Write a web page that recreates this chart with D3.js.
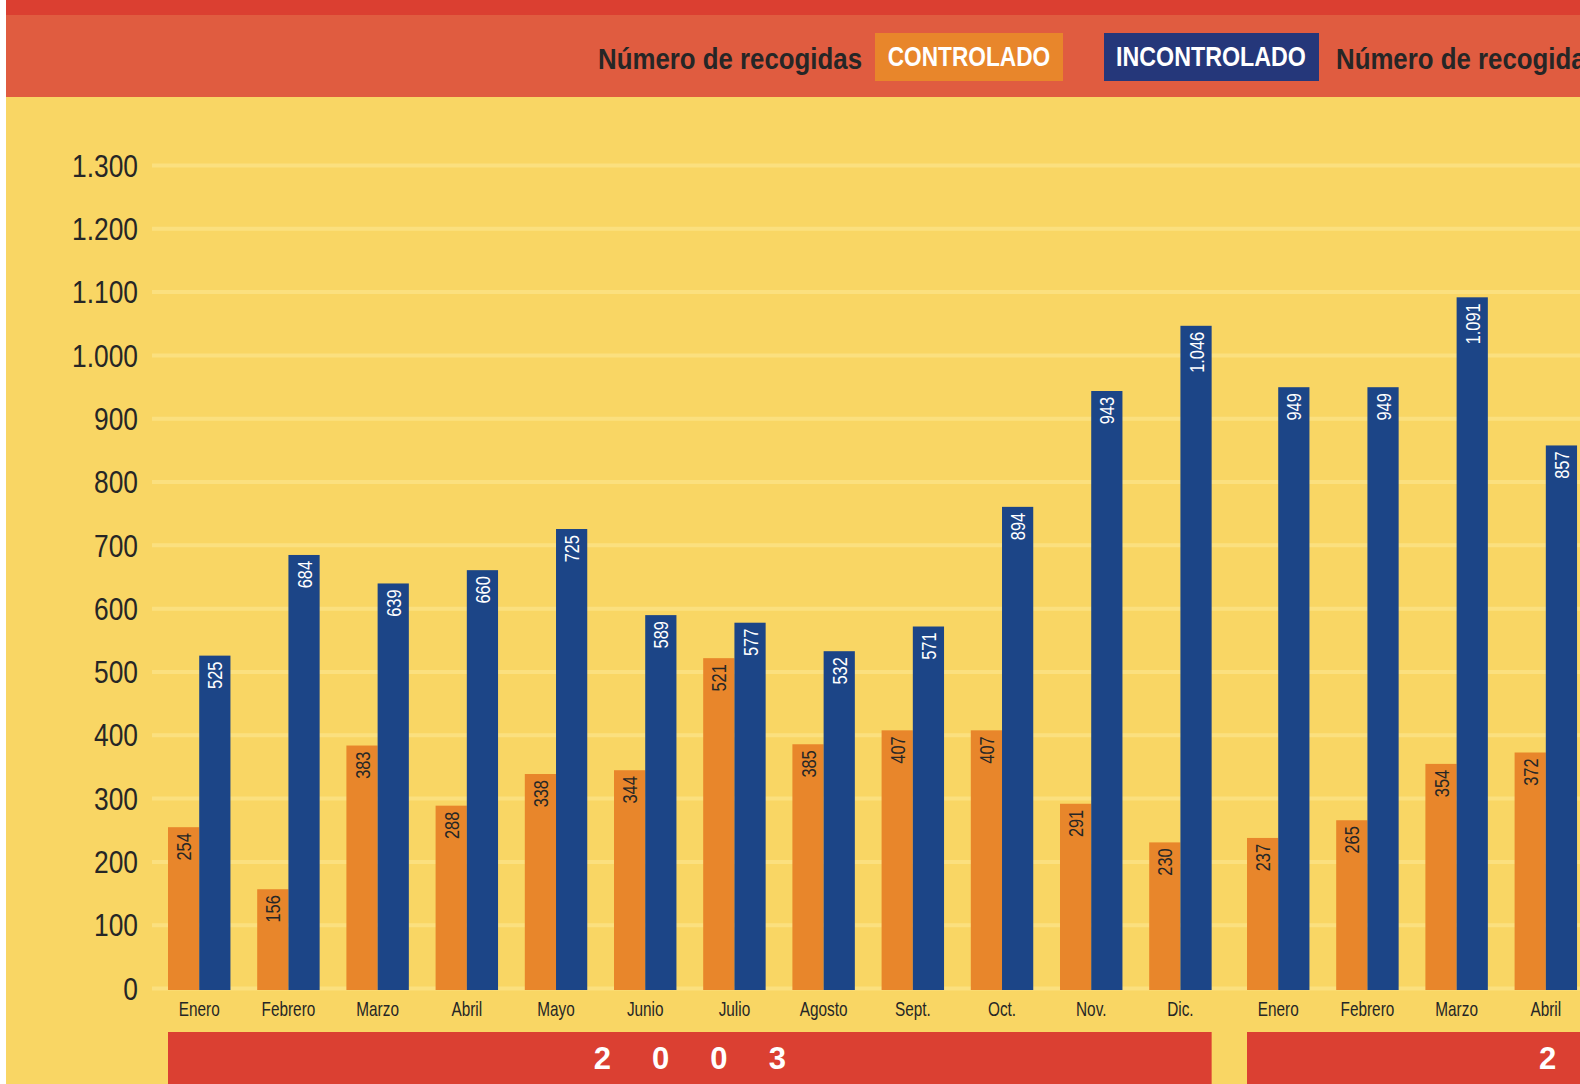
<!DOCTYPE html>
<html>
<head>
<meta charset="utf-8">
<title>Número de recogidas</title>
<script src="https://cdn.jsdelivr.net/npm/d3@7"></script>
<style>
html, body { margin: 0; padding: 0; background: #fff; }
svg { display: block; }
text { font-family: "Liberation Sans", Arial, sans-serif; }
</style>
<script>
// months on the x axis, one list per year
var meses2003 = ["Enero", "Febrero", "Marzo", "Abril", "Mayo", "Junio", "Julio", "Agosto", "Sept.", "Oct.", "Nov.", "Dic."];
var meses2004 = ["Enero", "Febrero", "Marzo", "Abril", "Mayo", "Junio", "Julio", "Agosto", "Sept."];
var anios = ["2003", "2004"];

// controlled pickups (orange)
var controlado2003 = [254, 156, 383, 288, 338, 344, 521, 385, 407, 407, 291, 230];
var controlado2004 = [237, 265, 354, 372];

// uncontrolled pickups (blue), bar heights as drawn
var incontrolado2003 = [525, 684, 639, 660, 725, 589, 577, 532, 571, 760, 943, 1046];
var incontrolado2004 = [949, 949, 1091, 857];
// numbers printed on the blue bars (Oct. is printed 894 on a shorter bar)
var etiquetasIncontrolado2003 = [525, 684, 639, 660, 725, 589, 577, 532, 571, 894, 943, 1046];
var etiquetasIncontrolado2004 = [949, 949, 1091, 857];

var yTicks = [0, 100, 200, 300, 400, 500, 600, 700, 800, 900, 1000, 1100, 1200, 1300];

var W = 1580, H = 1084;
var ORANGE = "#e8862b", BLUE = "#1c4587", YELLOW = "#f9d664", GRID = "#fbe07f";
var INK = "#262626";

var es = d3.formatLocale({decimal: ",", thousands: ".", grouping: [3], currency: ["", " €"]});
var fmt = es.format(",d");

// no narrow font installed, so squeeze the glyphs to get the condensed look
function condense(sel, f) {
  sel.each(function() {
    var w = this.getComputedTextLength();
    d3.select(this).attr("textLength", w * f).attr("lengthAdjust", "spacingAndGlyphs");
  });
}

window.onload = function() {
  var svg = d3.select("#chart").attr("width", W).attr("height", H);

  // backgrounds
  svg.append("rect").attr("x", 6).attr("y", 0).attr("width", W - 6).attr("height", H).attr("fill", YELLOW);
  svg.append("rect").attr("x", 6).attr("y", 0).attr("width", W - 6).attr("height", 97).attr("fill", "#e05c40");
  svg.append("rect").attr("x", 6).attr("y", 0).attr("width", W - 6).attr("height", 15).attr("fill", "#db3f31");

  // legend
  var leg = svg.append("g").attr("class", "legend");
  leg.append("text").attr("x", 862).attr("y", 69).attr("text-anchor", "end")
    .attr("font-size", 29).attr("font-weight", "bold").attr("fill", INK)
    .text("Número de recogidas").call(condense, 0.89);
  leg.append("rect").attr("x", 875).attr("y", 33).attr("width", 188).attr("height", 48).attr("fill", ORANGE);
  leg.append("text").attr("x", 969).attr("y", 66).attr("text-anchor", "middle")
    .attr("font-size", 28).attr("font-weight", "bold").attr("fill", "#fff")
    .text("CONTROLADO").call(condense, 0.81);
  leg.append("rect").attr("x", 1104).attr("y", 33).attr("width", 215).attr("height", 48).attr("fill", "#25377a");
  leg.append("text").attr("x", 1211).attr("y", 66).attr("text-anchor", "middle")
    .attr("font-size", 28).attr("font-weight", "bold").attr("fill", "#fff")
    .text("INCONTROLADO").call(condense, 0.83);
  leg.append("text").attr("x", 1336).attr("y", 69)
    .attr("font-size", 29).attr("font-weight", "bold").attr("fill", INK)
    .text("Número de recogidas").call(condense, 0.89);

  // y scale + gridlines
  var y = d3.scaleLinear().domain([0, 1300]).range([988, 165]);

  var grid = svg.append("g").attr("transform", "translate(152,0)")
    .call(d3.axisRight(y).tickValues(yTicks).tickSize(W - 152).tickFormat(""));
  grid.select(".domain").remove();
  grid.selectAll("line").attr("stroke", GRID).attr("stroke-width", 4);

  var yAxis = svg.append("g").attr("transform", "translate(152,0)")
    .call(d3.axisLeft(y).tickValues(yTicks).tickSize(0).tickPadding(14).tickFormat(fmt));
  yAxis.select(".domain").remove();
  yAxis.selectAll("text").attr("font-size", 31).attr("fill", INK)
    .attr("font-family", "Liberation Sans, Arial, sans-serif")
    .attr("dy", "0.36em").call(condense, 0.85);

  // x layout: one band scale per year, a slightly wider gap between years
  var step = 89.2, pad = 0.3, yearGap = 8.6, x0 = 168;
  var years = [
    {anio: anios[0], meses: meses2003, c: controlado2003, i: incontrolado2003, et: etiquetasIncontrolado2003},
    {anio: anios[1], meses: meses2004, c: controlado2004, i: incontrolado2004, et: etiquetasIncontrolado2004}
  ];
  var start = x0;
  years.forEach(function(yr) {
    yr.start = start;
    yr.end = start + (yr.meses.length - pad) * step;
    yr.x = d3.scaleBand().domain(d3.range(yr.meses.length)).range([yr.start, yr.end])
      .paddingInner(pad).paddingOuter(0);
    start = yr.start + yr.meses.length * step + yearGap;
  });

  var serie = d3.scaleBand().domain(["c", "i"]);

  years.forEach(function(yr) {
    serie.range([0, yr.x.bandwidth()]);
    var g = svg.append("g");

    // month labels, only for months that have bars
    var xa = svg.append("g").attr("transform", "translate(0,988)")
      .call(d3.axisBottom(yr.x).tickValues(d3.range(yr.c.length)).tickSize(0).tickPadding(13)
        .tickFormat(function(d) { return yr.meses[d]; }));
    xa.select(".domain").remove();
    xa.selectAll("text").attr("font-size", 21).attr("fill", INK)
      .attr("font-family", "Liberation Sans, Arial, sans-serif")
      .call(condense, 0.73);

    var rows = [];
    yr.c.forEach(function(v, k) { rows.push({k: k, s: "c", v: v, lab: fmt(v)}); });
    yr.i.forEach(function(v, k) { rows.push({k: k, s: "i", v: v, lab: fmt(yr.et[k])}); });

    g.selectAll("rect.bar").data(rows).enter().append("rect")
      .attr("class", "bar")
      .attr("x", function(d) { return yr.x(d.k) + serie(d.s); })
      .attr("y", function(d) { return y(d.v); })
      .attr("width", serie.bandwidth())
      .attr("height", function(d) { return y(0) + 2 - y(d.v); })
      .attr("fill", function(d) { return d.s === "c" ? ORANGE : BLUE; });

    g.selectAll("text.val").data(rows).enter().append("text")
      .attr("class", "val")
      .attr("transform", function(d) {
        var cx = yr.x(d.k) + serie(d.s) + serie.bandwidth() / 2;
        return "translate(" + cx + "," + (y(d.v) + 6) + ") rotate(-90)";
      })
      .attr("text-anchor", "end").attr("dy", "0.36em")
      .attr("font-size", 21)
      .attr("fill", function(d) { return d.s === "c" ? INK : "#fff"; })
      .text(function(d) { return d.lab; })
      .call(condense, 0.78);

    // year band
    svg.append("rect").attr("x", yr.start).attr("y", 1032)
      .attr("width", yr.end - yr.start).attr("height", H - 1032).attr("fill", "#db4032");
    var cx = (yr.start + yr.end) / 2;
    svg.append("g").selectAll("text").data(yr.anio.split("")).enter().append("text")
      .attr("x", function(d, k) { return cx + (k - 1.5) * 58.3; })
      .attr("y", 1069).attr("text-anchor", "middle")
      .attr("font-size", 31).attr("font-weight", "bold").attr("fill", "#fff")
      .text(function(d) { return d; });
  });
};
</script>
</head>
<body>
<svg id="chart"></svg>
</body>
</html>
